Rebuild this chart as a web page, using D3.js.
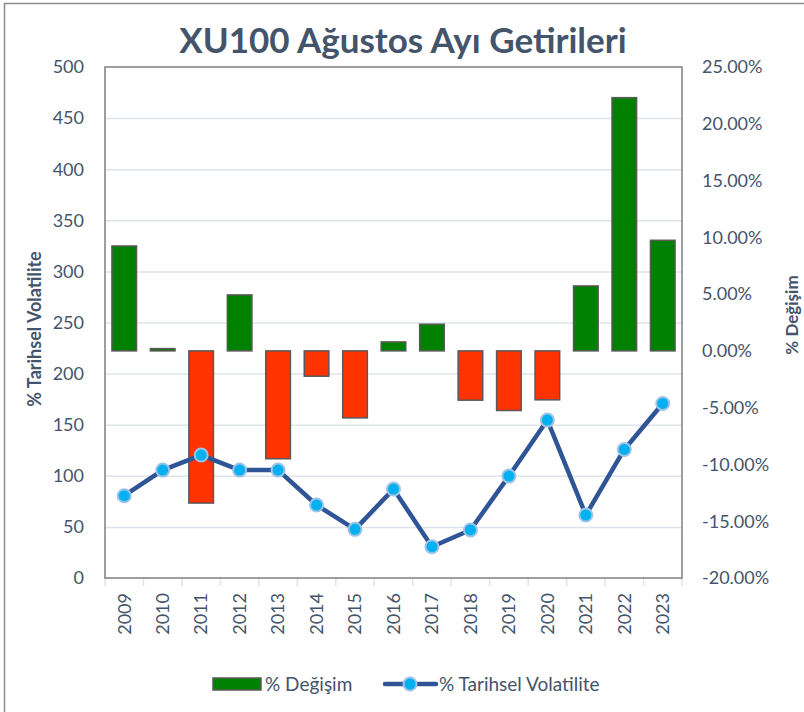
<!DOCTYPE html>
<html>
<head>
<meta charset="utf-8">
<style>
body { margin: 0; background: #fff; font-family: Lato, 'Open Sans', sans-serif; }
</style>
</head>
<body>
<svg width="804" height="712"></svg>
<script src="https://d3js.org/d3.v7.min.js"></script>
<script>
// chart data
var years = ["2009","2010","2011","2012","2013","2014","2015","2016","2017","2018","2019","2020","2021","2022","2023"];
var degisim = [9.24, 0.2, -13.4, 4.93, -9.5, -2.23, -5.9, 0.79, 2.35, -4.34, -5.25, -4.31, 5.72, 22.3, 9.74];
var volatilite = [80.5, 105.6, 120.3, 105.6, 105.6, 71.4, 47.6, 87, 30.6, 47, 99.7, 154.5, 61.6, 125.8, 170.8];
var leftTicks = [0, 50, 100, 150, 200, 250, 300, 350, 400, 450, 500];
var rightTicks = [-20, -15, -10, -5, 0, 5, 10, 15, 20, 25];

var svg = d3.select("svg"),
    margin = {top: 67, right: 122, bottom: 134, left: 105},
    width = +svg.attr("width") - margin.left - margin.right,
    height = +svg.attr("height") - margin.top - margin.bottom,
    g = svg.append("g").attr("transform", "translate(" + margin.left + "," + margin.top + ")");

var textColor = "#44546A";

// outer chart border (left + top only visible)
svg.append("path")
    .attr("d", "M4.5,712 V3.5 H804")
    .attr("fill", "none")
    .attr("stroke", "#8c8c8c")
    .attr("stroke-width", 1.5);

var x = d3.scaleBand().domain(years).range([0, width]).paddingInner(0.36).paddingOuter(0.18);
var band = d3.scaleBand().domain(years).range([0, width]);
var yL = d3.scaleLinear().domain([0, 500]).range([height, 0]);
var yR = d3.scaleLinear().domain([-20, 25]).range([height, 0]);

// gridlines
g.append("g")
  .selectAll("line")
  .data(leftTicks.slice(1, -1))
  .enter().append("line")
    .attr("x1", 0).attr("x2", width)
    .attr("y1", function(d) { return yL(d) + 0.5; })
    .attr("y2", function(d) { return yL(d) + 0.5; })
    .attr("stroke", "#dfe3ea")
    .attr("stroke-width", 1.5);

// x ticks below the plot
g.append("g")
  .selectAll("line")
  .data(d3.range(years.length + 1))
  .enter().append("line")
    .attr("x1", function(i) { return i * band.bandwidth(); })
    .attr("x2", function(i) { return i * band.bandwidth(); })
    .attr("y1", height).attr("y2", height + 8)
    .attr("stroke", "#dfe3ea")
    .attr("stroke-width", 1.5);

// bars
g.append("g")
  .selectAll("rect")
  .data(degisim)
  .enter().append("rect")
    .attr("x", function(d, i) { return x(years[i]); })
    .attr("width", x.bandwidth())
    .attr("y", function(d) { return yR(Math.max(d, 0)); })
    .attr("height", function(d) { return Math.abs(yR(d) - yR(0)); })
    .attr("fill", function(d) { return d >= 0 ? "#008000" : "#ff3300"; })
    .attr("stroke", "#595959")
    .attr("stroke-width", 1.5);

// plot border
g.append("rect")
    .attr("width", width).attr("height", height)
    .attr("fill", "none")
    .attr("stroke", "#7f7f7f")
    .attr("stroke-width", 1.5);

// volatility line
var line = d3.line()
    .x(function(d, i) { return band(years[i]) + band.bandwidth() / 2; })
    .y(function(d) { return yL(d); });

g.append("path")
    .datum(volatilite)
    .attr("d", line)
    .attr("fill", "none")
    .attr("stroke", "#2f5597")
    .attr("stroke-width", 4.5)
    .attr("stroke-linejoin", "round");

g.append("g")
  .selectAll("circle")
  .data(volatilite)
  .enter().append("circle")
    .attr("cx", function(d, i) { return band(years[i]) + band.bandwidth() / 2; })
    .attr("cy", function(d) { return yL(d); })
    .attr("r", 6.5)
    .attr("fill", "#00b0f0")
    .attr("stroke", "#9dc3e6")
    .attr("stroke-width", 2);

// axis labels
g.append("g")
  .selectAll("text")
  .data(leftTicks)
  .enter().append("text")
    .attr("x", -21)
    .attr("y", function(d) { return yL(d); })
    .attr("dy", "0.35em")
    .attr("text-anchor", "end")
    .attr("font-size", 18)
    .attr("fill", textColor)
    .text(function(d) { return d; });

g.append("g")
  .selectAll("text")
  .data(rightTicks)
  .enter().append("text")
    .attr("x", width + 20)
    .attr("y", function(d) { return yR(d); })
    .attr("dy", "0.35em")
    .attr("text-anchor", "start")
    .attr("font-size", 18)
    .attr("fill", textColor)
    .text(function(d) { return d.toFixed(2) + "%"; });

g.append("g")
  .selectAll("text")
  .data(years)
  .enter().append("text")
    .attr("transform", function(d) {
      return "translate(" + (band(d) + band.bandwidth() / 2) + "," + (height + 15) + ") rotate(-90)";
    })
    .attr("dy", "0.35em")
    .attr("text-anchor", "end")
    .attr("font-size", 18)
    .attr("fill", textColor)
    .text(function(d) { return d; });

// title
svg.append("text")
    .attr("x", 403)
    .attr("y", 53)
    .attr("text-anchor", "middle")
    .attr("font-size", 35)
    .attr("font-weight", "bold")
    .attr("fill", textColor)
    .text("XU100 Ağustos Ayı Getirileri");

// axis titles
svg.append("text")
    .attr("transform", "translate(41,329) rotate(-90)")
    .attr("text-anchor", "middle")
    .attr("font-size", 18)
    .attr("font-weight", "bold")
    .attr("fill", textColor)
    .text("% Tarihsel Volatilite");

svg.append("text")
    .attr("transform", "translate(798,315) rotate(-90)")
    .attr("text-anchor", "middle")
    .attr("font-size", 17)
    .attr("font-weight", "bold")
    .attr("fill", textColor)
    .text("% Değişim");

// legend
var legend = svg.append("g").attr("font-size", 19).attr("fill", textColor);
legend.append("rect")
    .attr("x", 213).attr("y", 678).attr("width", 48).attr("height", 12)
    .attr("fill", "#008000").attr("stroke", "#595959").attr("stroke-width", 1.5);
legend.append("text").attr("x", 265).attr("y", 691).text("% Değişim");
legend.append("line")
    .attr("x1", 385).attr("x2", 436).attr("y1", 684).attr("y2", 684)
    .attr("stroke", "#2f5597").attr("stroke-width", 4.5).attr("stroke-linecap", "round");
legend.append("circle")
    .attr("cx", 410).attr("cy", 684).attr("r", 6.5)
    .attr("fill", "#00b0f0").attr("stroke", "#9dc3e6").attr("stroke-width", 2);
legend.append("text").attr("x", 439).attr("y", 691).text("% Tarihsel Volatilite");
</script>
</body>
</html>
